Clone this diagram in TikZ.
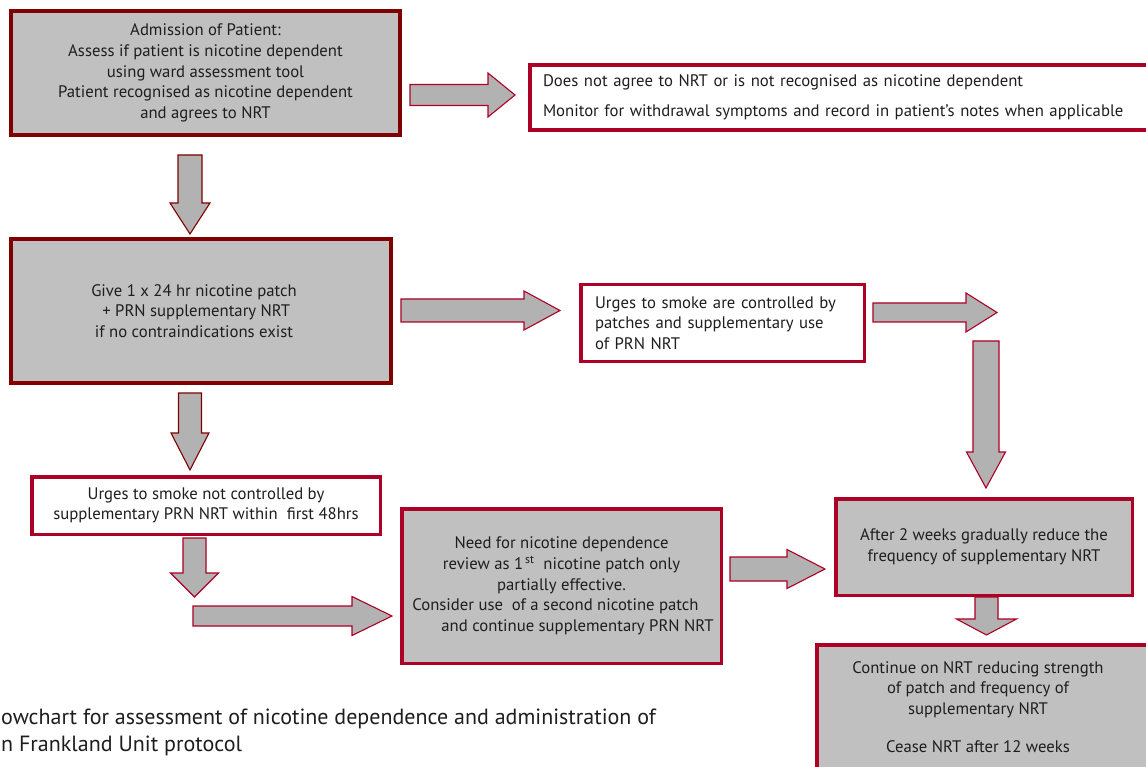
\documentclass[tikz,border=0pt]{standalone}
\usepackage{fontspec}
\setmainfont{PT Sans}
\definecolor{bdark}{RGB}{128,0,0}
\definecolor{bcrim}{RGB}{172,0,38}
\definecolor{boxgray}{RGB}{192,192,192}
\definecolor{arrgray}{RGB}{178,178,178}
\definecolor{txt}{RGB}{30,30,30}
\newcommand\boxfont{\fontsize{16.7}{20.7}\selectfont}
\newcommand\capfont{\fontsize{22}{27}\selectfont}
% right block arrow: style, x1, xhead, xtip, ycentre, shaft half, head half
\newcommand\rarr[7]{\draw[#1] (#2,#5-#6) -- (#3,#5-#6) -- (#3,#5-#7) -- (#4,#5) -- (#3,#5+#7) -- (#3,#5+#6) -- (#2,#5+#6) -- cycle;}
% down block arrow: style, y1, yhead, ytip, xcentre, shaft half, head half
\newcommand\darr[7]{\draw[#1] (#5-#6,#2) -- (#5-#6,#3) -- (#5-#7,#3) -- (#5,#4) -- (#5+#7,#3) -- (#5+#6,#3) -- (#5+#6,#2) -- cycle;}
\tikzset{
  boxbase/.style={inner sep=0pt, font=\boxfont, text=txt, align=center},
  graydark/.style={boxbase, draw=bdark, line width=4pt, fill=boxgray},
  graycrim/.style={boxbase, draw=bcrim, line width=3.5pt, fill=boxgray},
  whitecrim/.style={boxbase, draw=bcrim, line width=3.5pt, fill=white},
  arrcrim/.style={draw=bcrim, line width=1.1pt, fill=arrgray, line join=miter},
  arrdark/.style={draw=bdark, line width=1.1pt, fill=arrgray, line join=miter},
  captext/.style={inner sep=0pt, font=\capfont, text=txt, anchor=base west}
}
\begin{document}
\begin{tikzpicture}[x=1pt, y=-1pt]
\useasboundingbox (0,0) rectangle (1146,767);
\clip (0,0) rectangle (1146,767);
\fill[white] (0,0) rectangle (1146,767);

% boxes
\node[graydark, minimum width=389pt, minimum height=124pt] (b1) at (205.5,73)
  {Admission of Patient:\\Assess if patient is nicotine dependent\\using ward assessment tool\\Patient recognised as nicotine dependent\\and agrees to NRT};
\node[whitecrim, minimum width=618pt, minimum height=65pt, align=left, text width=592pt, inner xsep=13pt] (b2) at (839,97.5)
  {Does not agree to NRT or is not recognised as nicotine dependent\\[9pt]Monitor for withdrawal symptoms and record in patient’s notes when applicable};
\node[graydark, minimum width=380pt, minimum height=144pt] (b3) at (201,311)
  {\hspace*{-14pt}Give 1 x 24 hr nicotine patch\\\hspace*{-14pt}\ + PRN supplementary NRT\\\hspace*{-14pt}if no contraindications exist};
\node[whitecrim, minimum width=283.5pt, minimum height=76.5pt, align=left, text width=255pt, inner xsep=14pt] (b4) at (722.5,323)
  {Urges to smoke are controlled by\\patches and supplementary use\\of PRN NRT};
\node[whitecrim, minimum width=348.5pt, minimum height=57.5pt] (b5) at (206,505.5)
  {Urges to smoke not controlled by\\supplementary PRN NRT within\ \ first 48hrs};
\node[graycrim, minimum width=319.5pt, minimum height=154.5pt] (b6) at (561.5,586)
  {Need for nicotine dependence\\review as 1\textsuperscript{\,st}\ \ nicotine patch only\\partially effective.\\\hspace*{-12pt}Consider use\ \ of a second nicotine patch\\\hspace*{32pt}and continue supplementary PRN NRT};
\node[graycrim, minimum width=296.5pt, minimum height=96.5pt] (b7) at (984,547)
  {After 2 weeks gradually reduce the\\frequency of supplementary NRT};
\node[graycrim, minimum width=341.5pt, minimum height=133.5pt] (b8) at (987.5,711.5) {};
\node[boxbase] (b8text) at (978,707)
  {Continue on NRT reducing strength\\of patch and frequency of\\supplementary NRT\\[17pt]Cease NRT after 12 weeks};

% block arrows
\rarr{arrcrim}{410}{488}{515}{95}{10.5}{22}
\darr{arrdark}{155}{203}{234}{190}{12}{20}
\rarr{arrcrim}{401}{524}{560}{310.5}{11.5}{19.5}
\rarr{arrcrim}{873}{966}{997}{312.5}{9.5}{19.5}
\darr{arrcrim}{341}{452}{488}{986}{13}{19.5}
\darr{arrdark}{393}{433}{470}{190}{11.5}{19}
\darr{arrcrim}{538}{573}{597}{194.5}{11.5}{24}
\rarr{arrcrim}{193}{352}{392}{616}{10}{19.5}
\rarr{arrcrim}{730}{787}{825}{569}{12}{19.5}
\darr{arrcrim}{597}{619}{635}{986.5}{11.5}{30}

% caption
\node[captext] (cap1) at (1,724) {owchart for assessment of nicotine dependence and administration of};
\node[captext] (cap2) at (1,751) {n Frankland Unit protocol};
\end{tikzpicture}
\end{document}
